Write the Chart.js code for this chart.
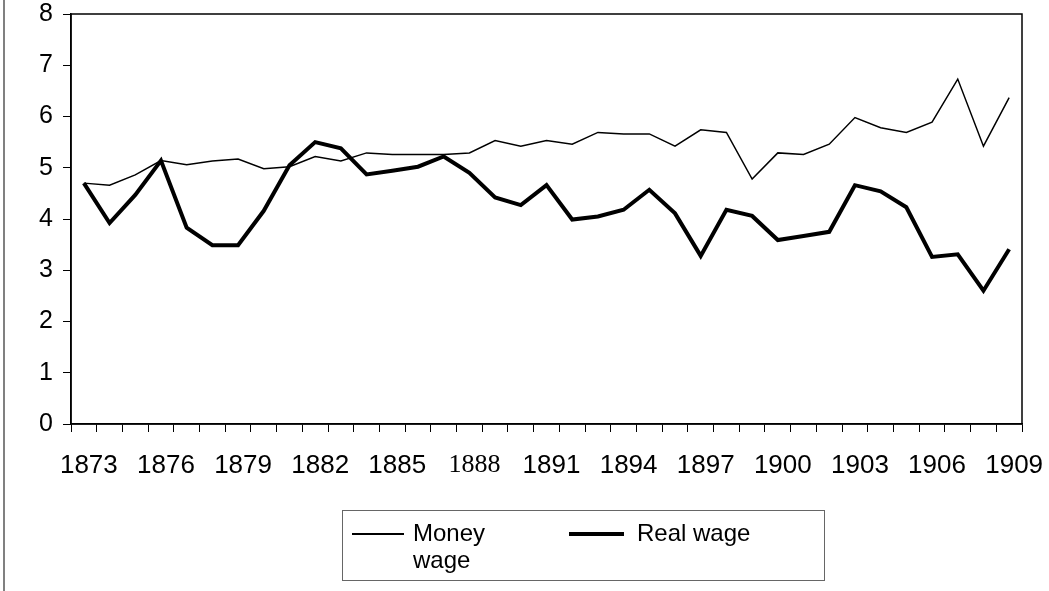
<!DOCTYPE html>
<html>
<head>
<meta charset="utf-8">
<script src="https://cdn.jsdelivr.net/npm/chart.js@4/dist/chart.umd.min.js"></script>
<style>
  html, body { margin: 0; padding: 0; background: #fff; }
  .wrap { position: relative; width: 1049px; height: 591px; font-family: Arial, "Liberation Sans", sans-serif; }
  .edge { position: absolute; left: 3px; top: 0; width: 2px; height: 591px; background: #808080; }
  .legend { position: absolute; left: 342px; top: 510px; width: 483px; height: 71px; border: 1px solid #666; box-sizing: border-box; font-size: 24px; color: #000; }
  .legend .item { position: absolute; top: 8px; line-height: 27px; }
  .legend .swatch { position: absolute; background: #000; }
</style>
</head>
<body>
<div class="wrap">
  <canvas id="chartWage" width="1049" height="591"></canvas>
  <div class="edge"></div>
  <div class="legend">
    <div class="swatch" style="left:9px; top:22px; width:52px; height:1.5px;"></div>
    <div class="item" style="left:70px;">Money<br>wage</div>
    <div class="swatch" style="left:226px; top:21px; width:55px; height:4px;"></div>
    <div class="item" style="left:294px;">Real wage</div>
  </div>
</div>
<script>
const years = [];
for (let y = 1873; y <= 1909; y++) years.push(String(y));

const moneyWage = [4.70, 4.66, 4.86, 5.14, 5.06, 5.13, 5.17, 4.98, 5.02, 5.22,
  5.13, 5.29, 5.26, 5.26, 5.26, 5.29, 5.53, 5.42, 5.53, 5.46,
  5.69, 5.66, 5.66, 5.42, 5.74, 5.69, 4.78, 5.29, 5.26, 5.46,
  5.98, 5.78, 5.69, 5.89, 6.73, 5.42, 6.37];

const realWage = [4.70, 3.92, 4.47, 5.14, 3.83, 3.49, 3.49, 4.16, 5.05, 5.50,
  5.38, 4.87, 4.94, 5.02, 5.22, 4.90, 4.42, 4.27, 4.66, 3.99,
  4.05, 4.18, 4.57, 4.11, 3.28, 4.18, 4.06, 3.59, 3.67, 3.75,
  4.66, 4.54, 4.23, 3.26, 3.31, 2.60, 3.41];

const yTicks = [0, 1, 2, 3, 4, 5, 6, 7, 8];

// the 1888 label is set in a serif face in the original
const serifLabels = ["1888"];

const sansFont = "Arial, 'Liberation Sans', sans-serif";
const serifFont = "'Times New Roman', 'Liberation Serif', serif";

// frame around the plot area
const plotFrame = {
  id: "plotFrame",
  afterDraw(chart) {
    const { ctx, chartArea: a } = chart;
    ctx.save();
    ctx.strokeStyle = "#000";
    ctx.lineWidth = 1.5;
    ctx.strokeRect(a.left, a.top, a.right - a.left, a.bottom - a.top);
    ctx.restore();
  }
};

const ctx = document.getElementById("chartWage").getContext("2d");
new Chart(ctx, {
  type: "line",
  data: {
    labels: years,
    datasets: [
      {
        label: "Money wage",
        data: moneyWage,
        borderColor: "#000",
        borderWidth: 1.5,
        pointRadius: 0,
        tension: 0,
        fill: false
      },
      {
        label: "Real wage",
        data: realWage,
        borderColor: "#000",
        borderWidth: 4,
        pointRadius: 0,
        tension: 0,
        fill: false
      }
    ]
  },
  options: {
    responsive: false,
    animation: false,
    layout: { padding: { left: 0, top: 14, right: 27, bottom: 117 } },
    plugins: {
      legend: { display: false },
      tooltip: { enabled: false }
    },
    scales: {
      x: {
        offset: true,
        grid: { offset: true, drawOnChartArea: false, tickLength: 8, color: "#000", lineWidth: 1 },
        border: { color: "#000", width: 1.5 },
        ticks: {
          autoSkip: false,
          maxRotation: 0,
          padding: 18,
          labelOffset: 5,
          color: "#000",
          font: (c) => ({
            size: 26,
            family: serifLabels.includes(years[c.index]) ? serifFont : sansFont
          }),
          callback: function (val, i) {
            return i % 3 === 0 ? this.getLabelForValue(val) : "";
          }
        },
        afterFit: (scale) => {
          scale.height = 50;
          scale.paddingLeft = 0;
          scale.paddingRight = 0;
        }
      },
      y: {
        min: 0,
        max: 8,
        afterBuildTicks: (scale) => { scale.ticks = yTicks.map(v => ({ value: v })); },
        grid: { drawOnChartArea: false, tickLength: 8, color: "#000", lineWidth: 1 },
        border: { color: "#000", width: 1.5 },
        ticks: {
          padding: 10,
          color: "#000",
          font: { size: 25, family: sansFont }
        },
        afterFit: (scale) => {
          scale.width = 71;
          scale.paddingTop = 0;
          scale.paddingBottom = 0;
        }
      }
    }
  },
  plugins: [plotFrame]
});
</script>
</body>
</html>
